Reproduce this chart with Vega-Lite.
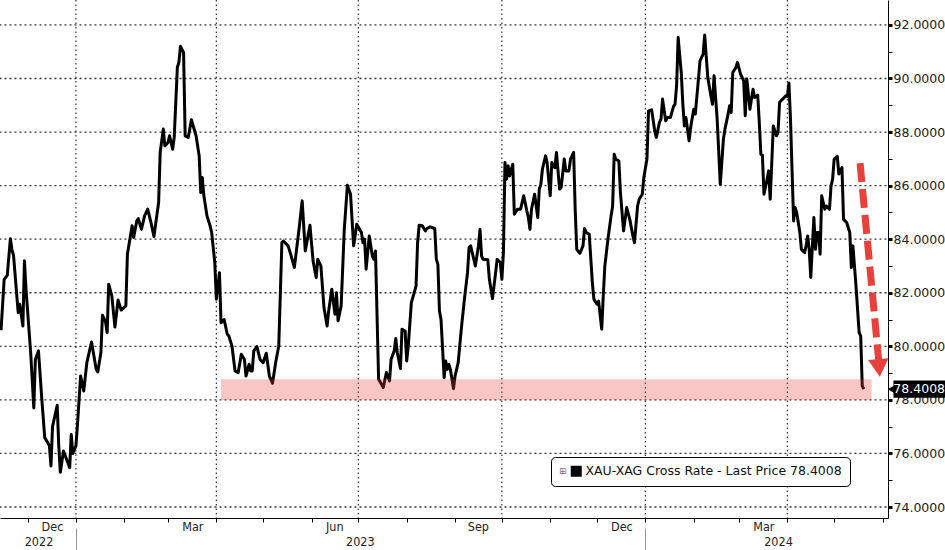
{
  "$schema": "https://vega.github.io/schema/vega-lite/v6.json",
  "width": 888,
  "height": 518,
  "autosize": {"type": "none"},
  "padding": {"left": 0, "top": 0, "right": 57, "bottom": 32},
  "background": "white",
  "config": {"view": {"stroke": null}, "font": "DejaVu Sans"},
  "datasets": {
    "hgrid": [
      {"g": 74, "t": "2022-11-13"}, {"g": 74, "t": "2024-06-05"}, {"g": 76, "t": "2022-11-13"}, {"g": 76, "t": "2024-06-05"},
      {"g": 78, "t": "2022-11-13"}, {"g": 78, "t": "2024-06-05"}, {"g": 80, "t": "2022-11-13"}, {"g": 80, "t": "2024-06-05"},
      {"g": 82, "t": "2022-11-13"}, {"g": 82, "t": "2024-06-05"}, {"g": 84, "t": "2022-11-13"}, {"g": 84, "t": "2024-06-05"},
      {"g": 86, "t": "2022-11-13"}, {"g": 86, "t": "2024-06-05"}, {"g": 88, "t": "2022-11-13"}, {"g": 88, "t": "2024-06-05"},
      {"g": 90, "t": "2022-11-13"}, {"g": 90, "t": "2024-06-05"}, {"g": 92, "t": "2022-11-13"}, {"g": 92, "t": "2024-06-05"}
    ],
    "vgrid": [{"date": "2023-01-01"}, {"date": "2023-04-01"}, {"date": "2023-07-01"}, {"date": "2023-10-01"}, {"date": "2024-01-01"}, {"date": "2024-04-01"}],
    "ratio": [
      {"date": "2022-11-14", "v": 80.6}, {"date": "2022-11-16", "v": 82.5}, {"date": "2022-11-18", "v": 82.65}, {"date": "2022-11-20", "v": 84.02},
      {"date": "2022-11-21", "v": 83.6}, {"date": "2022-11-22", "v": 83.4}, {"date": "2022-11-25", "v": 81.26}, {"date": "2022-11-26", "v": 81.57},
      {"date": "2022-11-28", "v": 80.76}, {"date": "2022-11-29", "v": 83.19}, {"date": "2022-11-30", "v": 82.13}, {"date": "2022-12-03", "v": 79.76},
      {"date": "2022-12-05", "v": 77.7}, {"date": "2022-12-06", "v": 79.5}, {"date": "2022-12-08", "v": 79.83}, {"date": "2022-12-10", "v": 78.14},
      {"date": "2022-12-12", "v": 76.59}, {"date": "2022-12-14", "v": 76.4}, {"date": "2022-12-15", "v": 76.28}, {"date": "2022-12-16", "v": 75.53},
      {"date": "2022-12-17", "v": 77.0}, {"date": "2022-12-20", "v": 77.8}, {"date": "2022-12-21", "v": 76.28}, {"date": "2022-12-22", "v": 75.3},
      {"date": "2022-12-24", "v": 76.09}, {"date": "2022-12-26", "v": 75.78}, {"date": "2022-12-28", "v": 75.47}, {"date": "2022-12-29", "v": 76.71},
      {"date": "2022-12-30", "v": 76.0}, {"date": "2023-01-01", "v": 76.28}, {"date": "2023-01-02", "v": 77.09}, {"date": "2023-01-04", "v": 78.89},
      {"date": "2023-01-06", "v": 78.33}, {"date": "2023-01-08", "v": 79.39}, {"date": "2023-01-11", "v": 80.16}, {"date": "2023-01-14", "v": 79.14},
      {"date": "2023-01-15", "v": 79.04}, {"date": "2023-01-17", "v": 79.76}, {"date": "2023-01-18", "v": 81.16}, {"date": "2023-01-20", "v": 80.91},
      {"date": "2023-01-21", "v": 80.51}, {"date": "2023-01-22", "v": 82.32}, {"date": "2023-01-24", "v": 81.88}, {"date": "2023-01-26", "v": 80.72},
      {"date": "2023-01-28", "v": 81.73}, {"date": "2023-01-30", "v": 81.35}, {"date": "2023-02-02", "v": 81.51}, {"date": "2023-02-03", "v": 83.44},
      {"date": "2023-02-06", "v": 84.5}, {"date": "2023-02-07", "v": 84.06}, {"date": "2023-02-09", "v": 84.68}, {"date": "2023-02-10", "v": 84.77},
      {"date": "2023-02-12", "v": 84.37}, {"date": "2023-02-14", "v": 84.87}, {"date": "2023-02-16", "v": 85.12}, {"date": "2023-02-18", "v": 84.65},
      {"date": "2023-02-20", "v": 84.1}, {"date": "2023-02-23", "v": 85.37}, {"date": "2023-02-24", "v": 87.24}, {"date": "2023-02-26", "v": 88.11},
      {"date": "2023-02-27", "v": 87.48}, {"date": "2023-03-01", "v": 87.61}, {"date": "2023-03-02", "v": 87.86}, {"date": "2023-03-04", "v": 87.36},
      {"date": "2023-03-05", "v": 87.8}, {"date": "2023-03-07", "v": 90.41}, {"date": "2023-03-08", "v": 90.6}, {"date": "2023-03-09", "v": 91.2},
      {"date": "2023-03-11", "v": 90.97}, {"date": "2023-03-12", "v": 87.86}, {"date": "2023-03-14", "v": 87.8}, {"date": "2023-03-16", "v": 88.46},
      {"date": "2023-03-19", "v": 87.86}, {"date": "2023-03-21", "v": 87.11}, {"date": "2023-03-22", "v": 85.74}, {"date": "2023-03-23", "v": 86.3},
      {"date": "2023-03-24", "v": 85.62}, {"date": "2023-03-26", "v": 84.87}, {"date": "2023-03-28", "v": 84.5}, {"date": "2023-03-29", "v": 84.25},
      {"date": "2023-03-31", "v": 83.13}, {"date": "2023-04-01", "v": 81.76}, {"date": "2023-04-03", "v": 82.75}, {"date": "2023-04-04", "v": 80.88},
      {"date": "2023-04-06", "v": 81.0}, {"date": "2023-04-08", "v": 80.45}, {"date": "2023-04-09", "v": 80.39}, {"date": "2023-04-11", "v": 80.01},
      {"date": "2023-04-13", "v": 79.08}, {"date": "2023-04-15", "v": 79.02}, {"date": "2023-04-17", "v": 79.7}, {"date": "2023-04-19", "v": 79.51},
      {"date": "2023-04-20", "v": 78.89}, {"date": "2023-04-22", "v": 79.33}, {"date": "2023-04-23", "v": 79.08}, {"date": "2023-04-24", "v": 79.08},
      {"date": "2023-04-25", "v": 79.83}, {"date": "2023-04-27", "v": 79.99}, {"date": "2023-04-29", "v": 79.51}, {"date": "2023-05-01", "v": 79.39},
      {"date": "2023-05-03", "v": 79.74}, {"date": "2023-05-05", "v": 78.89}, {"date": "2023-05-07", "v": 78.62}, {"date": "2023-05-09", "v": 79.39},
      {"date": "2023-05-11", "v": 80.01}, {"date": "2023-05-13", "v": 83.87}, {"date": "2023-05-14", "v": 83.93}, {"date": "2023-05-17", "v": 83.75},
      {"date": "2023-05-19", "v": 83.37}, {"date": "2023-05-21", "v": 82.94}, {"date": "2023-05-24", "v": 84.37}, {"date": "2023-05-26", "v": 85.43},
      {"date": "2023-05-28", "v": 83.56}, {"date": "2023-05-31", "v": 84.52}, {"date": "2023-06-02", "v": 83.19}, {"date": "2023-06-04", "v": 82.57},
      {"date": "2023-06-05", "v": 83.25}, {"date": "2023-06-07", "v": 83.0}, {"date": "2023-06-09", "v": 81.44}, {"date": "2023-06-11", "v": 80.76},
      {"date": "2023-06-12", "v": 81.32}, {"date": "2023-06-14", "v": 82.13}, {"date": "2023-06-16", "v": 81.2}, {"date": "2023-06-17", "v": 82.0},
      {"date": "2023-06-18", "v": 80.95}, {"date": "2023-06-20", "v": 81.51}, {"date": "2023-06-22", "v": 84.37}, {"date": "2023-06-24", "v": 86.01},
      {"date": "2023-06-26", "v": 85.68}, {"date": "2023-06-28", "v": 83.75}, {"date": "2023-06-30", "v": 84.56}, {"date": "2023-07-03", "v": 84.25},
      {"date": "2023-07-04", "v": 83.87}, {"date": "2023-07-05", "v": 84.0}, {"date": "2023-07-06", "v": 82.88}, {"date": "2023-07-08", "v": 84.12},
      {"date": "2023-07-10", "v": 83.37}, {"date": "2023-07-11", "v": 83.25}, {"date": "2023-07-12", "v": 83.56}, {"date": "2023-07-14", "v": 78.77},
      {"date": "2023-07-17", "v": 78.46}, {"date": "2023-07-19", "v": 79.02}, {"date": "2023-07-21", "v": 78.71}, {"date": "2023-07-22", "v": 79.51},
      {"date": "2023-07-24", "v": 79.83}, {"date": "2023-07-25", "v": 80.29}, {"date": "2023-07-26", "v": 79.76}, {"date": "2023-07-28", "v": 79.17},
      {"date": "2023-07-29", "v": 80.64}, {"date": "2023-07-31", "v": 80.57}, {"date": "2023-08-01", "v": 79.45}, {"date": "2023-08-02", "v": 80.01},
      {"date": "2023-08-04", "v": 81.63}, {"date": "2023-08-07", "v": 82.25}, {"date": "2023-08-08", "v": 83.87}, {"date": "2023-08-09", "v": 84.52},
      {"date": "2023-08-11", "v": 84.5}, {"date": "2023-08-13", "v": 84.31}, {"date": "2023-08-14", "v": 84.4}, {"date": "2023-08-16", "v": 84.46},
      {"date": "2023-08-19", "v": 84.4}, {"date": "2023-08-20", "v": 83.25}, {"date": "2023-08-21", "v": 83.06}, {"date": "2023-08-22", "v": 81.32},
      {"date": "2023-08-23", "v": 81.0}, {"date": "2023-08-25", "v": 78.83}, {"date": "2023-08-26", "v": 79.45}, {"date": "2023-08-27", "v": 79.14},
      {"date": "2023-08-28", "v": 79.33}, {"date": "2023-08-29", "v": 79.14}, {"date": "2023-08-31", "v": 78.42}, {"date": "2023-09-01", "v": 78.89},
      {"date": "2023-09-03", "v": 79.39}, {"date": "2023-09-05", "v": 80.64}, {"date": "2023-09-07", "v": 81.76}, {"date": "2023-09-09", "v": 82.75},
      {"date": "2023-09-10", "v": 83.69}, {"date": "2023-09-11", "v": 83.75}, {"date": "2023-09-13", "v": 83.25}, {"date": "2023-09-14", "v": 83.0},
      {"date": "2023-09-16", "v": 83.75}, {"date": "2023-09-17", "v": 84.37}, {"date": "2023-09-18", "v": 83.37}, {"date": "2023-09-19", "v": 83.25},
      {"date": "2023-09-22", "v": 83.23}, {"date": "2023-09-23", "v": 82.5}, {"date": "2023-09-25", "v": 81.78}, {"date": "2023-09-27", "v": 82.75},
      {"date": "2023-09-28", "v": 83.25}, {"date": "2023-09-30", "v": 83.13}, {"date": "2023-10-01", "v": 82.5}, {"date": "2023-10-02", "v": 83.5},
      {"date": "2023-10-03", "v": 86.86}, {"date": "2023-10-04", "v": 86.24}, {"date": "2023-10-05", "v": 86.74}, {"date": "2023-10-06", "v": 86.36},
      {"date": "2023-10-08", "v": 86.8}, {"date": "2023-10-09", "v": 84.93}, {"date": "2023-10-11", "v": 85.12}, {"date": "2023-10-13", "v": 85.12},
      {"date": "2023-10-15", "v": 85.62}, {"date": "2023-10-17", "v": 85.06}, {"date": "2023-10-18", "v": 84.81}, {"date": "2023-10-19", "v": 84.37},
      {"date": "2023-10-20", "v": 85.12}, {"date": "2023-10-22", "v": 85.68}, {"date": "2023-10-24", "v": 84.81}, {"date": "2023-10-25", "v": 85.87},
      {"date": "2023-10-26", "v": 86.05}, {"date": "2023-10-27", "v": 86.61}, {"date": "2023-10-29", "v": 87.11}, {"date": "2023-10-30", "v": 86.86},
      {"date": "2023-11-01", "v": 85.62}, {"date": "2023-11-02", "v": 86.86}, {"date": "2023-11-04", "v": 86.67}, {"date": "2023-11-05", "v": 87.24},
      {"date": "2023-11-07", "v": 85.87}, {"date": "2023-11-08", "v": 85.93}, {"date": "2023-11-10", "v": 86.99}, {"date": "2023-11-11", "v": 86.55},
      {"date": "2023-11-13", "v": 86.55}, {"date": "2023-11-14", "v": 86.99}, {"date": "2023-11-16", "v": 87.24}, {"date": "2023-11-17", "v": 85.12},
      {"date": "2023-11-18", "v": 83.62}, {"date": "2023-11-20", "v": 83.47}, {"date": "2023-11-22", "v": 83.75}, {"date": "2023-11-23", "v": 84.4},
      {"date": "2023-11-24", "v": 84.25}, {"date": "2023-11-26", "v": 84.18}, {"date": "2023-11-28", "v": 82.38}, {"date": "2023-11-29", "v": 81.76},
      {"date": "2023-12-01", "v": 81.57}, {"date": "2023-12-02", "v": 81.69}, {"date": "2023-12-04", "v": 80.64}, {"date": "2023-12-05", "v": 81.88},
      {"date": "2023-12-06", "v": 83.0}, {"date": "2023-12-08", "v": 84.0}, {"date": "2023-12-10", "v": 84.87}, {"date": "2023-12-11", "v": 85.24},
      {"date": "2023-12-12", "v": 87.17}, {"date": "2023-12-13", "v": 86.99}, {"date": "2023-12-15", "v": 86.92}, {"date": "2023-12-16", "v": 85.74},
      {"date": "2023-12-18", "v": 84.31}, {"date": "2023-12-19", "v": 84.74}, {"date": "2023-12-20", "v": 85.18}, {"date": "2023-12-22", "v": 84.74},
      {"date": "2023-12-24", "v": 84.12}, {"date": "2023-12-25", "v": 83.87}, {"date": "2023-12-27", "v": 85.24}, {"date": "2023-12-28", "v": 85.49},
      {"date": "2023-12-30", "v": 85.68}, {"date": "2023-12-31", "v": 86.3}, {"date": "2024-01-02", "v": 86.99}, {"date": "2024-01-03", "v": 88.79},
      {"date": "2024-01-05", "v": 88.83}, {"date": "2024-01-07", "v": 88.04}, {"date": "2024-01-08", "v": 87.8}, {"date": "2024-01-10", "v": 88.36},
      {"date": "2024-01-11", "v": 88.48}, {"date": "2024-01-12", "v": 89.23}, {"date": "2024-01-14", "v": 88.42}, {"date": "2024-01-15", "v": 88.54},
      {"date": "2024-01-17", "v": 88.54}, {"date": "2024-01-19", "v": 88.95}, {"date": "2024-01-20", "v": 89.04}, {"date": "2024-01-21", "v": 89.73},
      {"date": "2024-01-22", "v": 91.53}, {"date": "2024-01-23", "v": 90.85}, {"date": "2024-01-24", "v": 90.22}, {"date": "2024-01-25", "v": 89.04},
      {"date": "2024-01-26", "v": 88.23}, {"date": "2024-01-27", "v": 88.54}, {"date": "2024-01-29", "v": 87.67}, {"date": "2024-01-30", "v": 88.17},
      {"date": "2024-02-01", "v": 88.85}, {"date": "2024-02-02", "v": 88.67}, {"date": "2024-02-04", "v": 89.98}, {"date": "2024-02-05", "v": 90.66},
      {"date": "2024-02-07", "v": 90.91}, {"date": "2024-02-08", "v": 91.62}, {"date": "2024-02-10", "v": 90.04}, {"date": "2024-02-12", "v": 89.35},
      {"date": "2024-02-13", "v": 89.04}, {"date": "2024-02-14", "v": 90.1}, {"date": "2024-02-16", "v": 88.48}, {"date": "2024-02-18", "v": 86.05},
      {"date": "2024-02-20", "v": 87.73}, {"date": "2024-02-21", "v": 88.11}, {"date": "2024-02-23", "v": 88.67}, {"date": "2024-02-24", "v": 88.98},
      {"date": "2024-02-25", "v": 88.73}, {"date": "2024-02-26", "v": 90.22}, {"date": "2024-02-28", "v": 90.41}, {"date": "2024-02-29", "v": 90.6},
      {"date": "2024-03-02", "v": 90.16}, {"date": "2024-03-04", "v": 89.91}, {"date": "2024-03-05", "v": 88.61}, {"date": "2024-03-06", "v": 89.98},
      {"date": "2024-03-08", "v": 88.85}, {"date": "2024-03-09", "v": 89.23}, {"date": "2024-03-10", "v": 89.6}, {"date": "2024-03-11", "v": 89.29},
      {"date": "2024-03-13", "v": 89.38}, {"date": "2024-03-14", "v": 88.36}, {"date": "2024-03-15", "v": 87.17}, {"date": "2024-03-16", "v": 87.14},
      {"date": "2024-03-17", "v": 85.68}, {"date": "2024-03-19", "v": 86.24}, {"date": "2024-03-20", "v": 86.55}, {"date": "2024-03-21", "v": 85.49},
      {"date": "2024-03-23", "v": 88.23}, {"date": "2024-03-25", "v": 87.86}, {"date": "2024-03-26", "v": 87.98}, {"date": "2024-03-27", "v": 89.1},
      {"date": "2024-03-29", "v": 89.23}, {"date": "2024-03-31", "v": 89.35}, {"date": "2024-04-01", "v": 89.33}, {"date": "2024-04-02", "v": 89.83},
      {"date": "2024-04-03", "v": 88.48}, {"date": "2024-04-05", "v": 84.68}, {"date": "2024-04-06", "v": 85.18}, {"date": "2024-04-07", "v": 84.99},
      {"date": "2024-04-09", "v": 84.25}, {"date": "2024-04-10", "v": 83.62}, {"date": "2024-04-12", "v": 83.5}, {"date": "2024-04-13", "v": 83.75},
      {"date": "2024-04-14", "v": 84.12}, {"date": "2024-04-15", "v": 83.62}, {"date": "2024-04-16", "v": 82.57}, {"date": "2024-04-18", "v": 84.81},
      {"date": "2024-04-19", "v": 83.62}, {"date": "2024-04-20", "v": 84.25}, {"date": "2024-04-21", "v": 84.25}, {"date": "2024-04-22", "v": 83.44},
      {"date": "2024-04-23", "v": 85.62}, {"date": "2024-04-25", "v": 85.12}, {"date": "2024-04-26", "v": 85.24}, {"date": "2024-04-28", "v": 85.12},
      {"date": "2024-04-29", "v": 85.99}, {"date": "2024-04-30", "v": 86.24}, {"date": "2024-05-01", "v": 86.99}, {"date": "2024-05-03", "v": 87.09},
      {"date": "2024-05-04", "v": 86.43}, {"date": "2024-05-06", "v": 86.67}, {"date": "2024-05-07", "v": 84.74}, {"date": "2024-05-09", "v": 84.62},
      {"date": "2024-05-11", "v": 84.25}, {"date": "2024-05-12", "v": 82.94}, {"date": "2024-05-13", "v": 83.75}, {"date": "2024-05-14", "v": 83.0},
      {"date": "2024-05-15", "v": 82.25}, {"date": "2024-05-17", "v": 80.51}, {"date": "2024-05-18", "v": 80.39}, {"date": "2024-05-19", "v": 78.52},
      {"date": "2024-05-20", "v": 78.4008}
    ]
  },
  "layer": [
    {
      "data": {"name": "hgrid"},
      "mark": {"type": "line", "color": "#333", "strokeWidth": 1.3, "strokeDash": [2, 3], "clip": true},
      "encoding": {
        "x": {"field": "t", "type": "temporal", "axis": null},
        "y": {"field": "g", "type": "quantitative", "axis": null},
        "detail": {"field": "g", "type": "nominal"}
      }
    },
    {
      "data": {"name": "vgrid"},
      "mark": {"type": "rule", "color": "#333", "strokeWidth": 1.2, "strokeDash": [1.5, 3]},
      "encoding": {
        "x": {"field": "date", "type": "temporal", "axis": null}
      }
    },
    {
      "data": {"name": "ratio"},
      "mark": {"type": "line", "strokeWidth": 3, "strokeJoin": "round", "color": "#000"},
      "encoding": {
        "x": {
          "field": "date", "type": "temporal",
          "scale": {"domain": [{"year": 2022, "month": 11, "date": 13, "hours": 8}, {"year": 2024, "month": 6, "date": 4, "hours": 12}]},
          "axis": {
            "orient": "bottom", "title": null,
            "values": [
              {"year": 2023, "month": 1, "date": 1}, {"year": 2023, "month": 4, "date": 1}, {"year": 2023, "month": 7, "date": 1},
              {"year": 2023, "month": 10, "date": 1}, {"year": 2024, "month": 1, "date": 1}, {"year": 2024, "month": 4, "date": 1}
            ],
            "labelExpr": "month(datum.value)==0 ? 'Dec' : month(datum.value)==3 ? 'Mar' : month(datum.value)==6 ? 'Jun' : 'Sep'",
            "labelOffset": -24,
            "labelFont": "DejaVu Sans Condensed",
            "labelFontSize": 12.5,
            "labelColor": "#222",
            "labelPadding": -2,
            "labelFlush": false,
            "labelOverlap": false,
            "labelBound": false,
            "tickSize": 4,
            "tickColor": "#000",
            "domainColor": "#000",
            "domainWidth": 1,
            "grid": false
          }
        },
        "y": {
          "field": "v", "type": "quantitative",
          "scale": {"domain": [73.59, 92.93], "nice": false, "zero": false},
          "axis": {
            "orient": "right", "title": null,
            "values": [74, 76, 78, 80, 82, 84, 86, 88, 90, 92],
            "format": ".4f",
            "labelFontSize": 12.5,
            "labelColor": "#222",
            "labelPadding": 1,
            "labelFlush": false,
            "labelOverlap": false,
            "tickSize": 4,
            "tickColor": "#000",
            "tickWidth": 3,
            "domainColor": "#000",
            "grid": false
          }
        },
        "color": {
          "datum": "XAU-XAG Cross Rate - Last Price 78.4008",
          "scale": {"range": ["#000000"]},
          "legend": {
            "orient": "none", "legendX": 551, "legendY": 457,
            "title": "⊞", "titleOrient": "left", "titleFontSize": 9, "titleColor": "#777", "titleFontWeight": "normal", "titlePadding": 3,
            "padding": 8, "strokeColor": "#000", "fillColor": "#fff", "cornerRadius": 4,
            "symbolType": "square", "symbolSize": 121, "symbolFillColor": "#000", "symbolStrokeColor": "#000", "symbolStrokeWidth": 0,
            "labelFont": "DejaVu Sans", "labelFontSize": 12.5, "labelColor": "#111", "labelOffset": 3, "labelLimit": 400
          }
        }
      }
    },
    {
      "data": {"values": [{"start": "2023-04-04", "end": "2024-05-25", "lo": 78.0, "hi": 78.77}]},
      "mark": {"type": "rect", "color": "#eb4343", "opacity": 0.3},
      "encoding": {
        "x": {
          "field": "start", "type": "temporal",
          "axis": {
            "orient": "bottom", "title": null, "offset": 10,
            "values": [
              {"year": 2022, "month": 12, "date": 8}, {"year": 2023, "month": 1, "date": 1}, {"year": 2023, "month": 7, "date": 2},
              {"year": 2024, "month": 1, "date": 1}, {"year": 2024, "month": 3, "date": 26}
            ],
            "labelExpr": "(date(datum.value)==1 && month(datum.value)==0) ? '' : timeFormat(datum.value, '%Y')",
            "labelFont": "DejaVu Sans Condensed",
            "labelFontSize": 12.5,
            "labelColor": "#222",
            "labelPadding": -15,
            "labelFlush": false,
            "labelOverlap": false,
            "labelBound": false,
            "tickSize": 22,
            "tickColor": "#999",
            "tickOpacity": {"condition": {"test": "date(datum.value)==1 && month(datum.value)==0", "value": 1}, "value": 0},
            "domain": false,
            "grid": false
          }
        },
        "x2": {"field": "end"},
        "y": {"field": "lo", "type": "quantitative", "axis": null},
        "y2": {"field": "hi"}
      }
    },
    {
      "data": {"values": [{"t1": "2024-05-17T14:00", "v1": 86.84, "t2": "2024-05-29T12:00", "v2": 79.5}]},
      "mark": {"type": "rule", "color": "#e8413c", "strokeWidth": 7, "strokeDash": [19, 7]},
      "encoding": {
        "x": {
          "field": "t1", "type": "temporal",
          "axis": {
            "orient": "bottom", "title": null,
            "values": [
              {"year": 2022, "month": 12, "date": 1}, {"year": 2023, "month": 2, "date": 1}, {"year": 2023, "month": 3, "date": 1},
              {"year": 2023, "month": 5, "date": 1}, {"year": 2023, "month": 6, "date": 1}, {"year": 2023, "month": 8, "date": 1},
              {"year": 2023, "month": 9, "date": 1}, {"year": 2023, "month": 11, "date": 1}, {"year": 2023, "month": 12, "date": 1},
              {"year": 2024, "month": 2, "date": 1}, {"year": 2024, "month": 3, "date": 1}, {"year": 2024, "month": 5, "date": 1},
              {"year": 2024, "month": 6, "date": 1}
            ],
            "labels": false, "grid": false, "domain": false,
            "tickSize": 4, "tickColor": "#000"
          }
        },
        "y": {"field": "v1", "type": "quantitative", "axis": null},
        "x2": {"field": "t2"},
        "y2": {"field": "v2"}
      }
    },
    {
      "data": {"values": [{"t": "2024-05-29T18:00", "v": 79.19}]},
      "mark": {"type": "point", "shape": "triangle-down", "filled": true, "color": "#e8413c", "opacity": 1, "size": 420, "angle": -5},
      "encoding": {
        "x": {"field": "t", "type": "temporal", "axis": null},
        "y": {
          "field": "v", "type": "quantitative",
          "axis": {
            "orient": "right", "title": null,
            "values": [75, 77, 79, 81, 83, 85, 87, 89, 91],
            "labels": false, "grid": false, "domain": false,
            "tickSize": 4, "tickColor": "#000", "tickWidth": 1
          }
        }
      }
    },
    {
      "data": {"values": [{"t1": "2024-06-08", "t2": "2024-07-15", "lo": 78.08, "hi": 78.72}]},
      "mark": {"type": "rect", "color": "#000"},
      "encoding": {
        "x": {"field": "t1", "type": "temporal", "axis": null},
        "x2": {"field": "t2"},
        "y": {"field": "lo", "type": "quantitative", "axis": null},
        "y2": {"field": "hi"}
      }
    },
    {
      "data": {"values": [{"t": "2024-06-07", "v": 78.4}]},
      "mark": {"type": "point", "shape": "triangle-left", "filled": true, "color": "#000", "opacity": 1, "size": 90},
      "encoding": {
        "x": {"field": "t", "type": "temporal", "axis": null},
        "y": {"field": "v", "type": "quantitative", "axis": null}
      }
    },
    {
      "data": {"values": [{"t": "2024-06-24T12:00", "v": 78.4, "label": "78.4008"}]},
      "mark": {"type": "text", "color": "#fff", "font": "DejaVu Sans", "fontSize": 12.5, "align": "center", "baseline": "middle"},
      "encoding": {
        "x": {"field": "t", "type": "temporal", "axis": null},
        "y": {"field": "v", "type": "quantitative", "axis": null},
        "text": {"field": "label"}
      }
    }
  ],
  "resolve": {"axis": {"x": "independent", "y": "independent"}}
}
